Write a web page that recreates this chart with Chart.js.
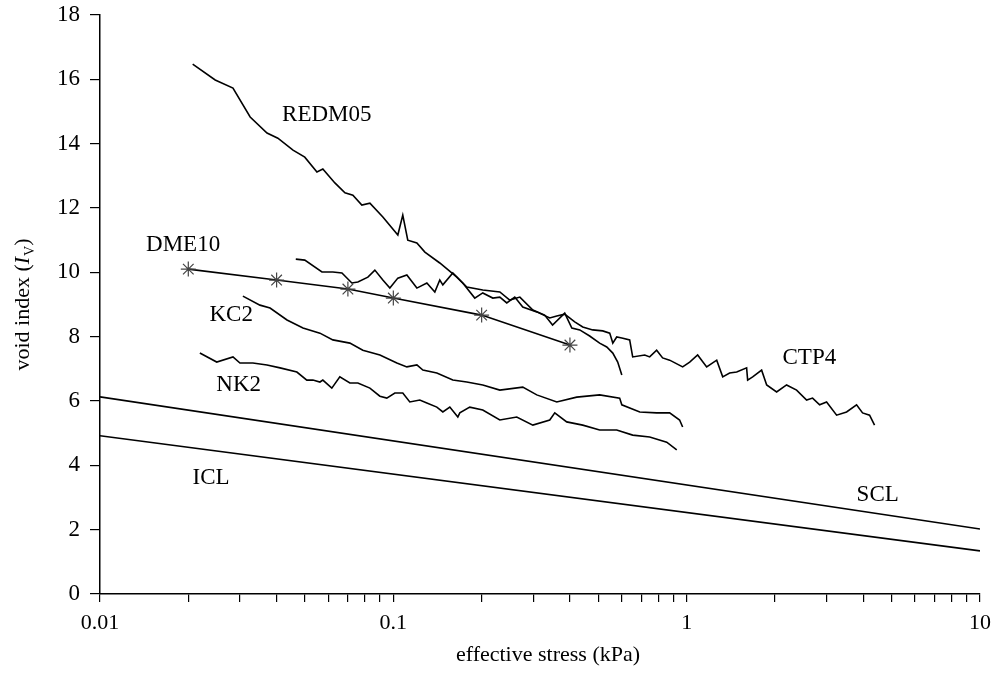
<!DOCTYPE html>
<html>
<head>
<meta charset="utf-8">
<script src="https://cdn.jsdelivr.net/npm/chart.js@4"></script>
<style>
  body { margin: 0; background: #fff; }
  #wrap { width: 995px; height: 676px; }
</style>
</head>
<body>
<div id="wrap"><canvas id="myChart" width="995" height="676"></canvas></div>
<script>
// tick values
const xMajorTicks = [0.01, 0.1, 1, 10];
const yTicks = [0, 2, 4, 6, 8, 10, 12, 14, 16, 18];

// series, [effective stress (kPa), void index]
const REDM05 = [[0.0207,16.47],[0.0247,15.98],[0.0284,15.73],[0.0325,14.83],[0.0371,14.33],[0.0404,14.17],
  [0.0455,13.80],[0.0499,13.58],[0.0549,13.12],[0.0575,13.21],[0.0632,12.78],[0.0684,12.47],[0.0728,12.40],
  [0.0781,12.09],[0.0832,12.15],[0.0921,11.72],[0.1036,11.16],[0.1077,11.78],[0.112,11.00],[0.1203,10.91],
  [0.1281,10.63],[0.144,10.29],[0.1646,9.85],[0.178,9.54],[0.2018,9.45],[0.2307,9.39],[0.2494,9.14],
  [0.270,9.23],[0.299,8.83],[0.328,8.67],[0.349,8.36],[0.384,8.73],[0.406,8.27],[0.432,8.21],[0.467,8.02],
  [0.505,7.80],[0.534,7.68],[0.560,7.49],[0.582,7.21],[0.601,6.81]];

const CTP4 = [[0.0465,10.41],[0.0499,10.38],[0.0571,10.01],[0.0622,10.01],[0.0668,9.98],[0.0722,9.67],
  [0.0757,9.70],[0.0819,9.85],[0.0865,10.07],[0.0921,9.76],[0.0973,9.51],[0.1036,9.82],[0.1112,9.92],
  [0.1203,9.51],[0.1301,9.67],[0.1385,9.39],[0.144,9.76],[0.1475,9.61],[0.1595,9.98],[0.1725,9.67],
  [0.1895,9.20],[0.2018,9.36],[0.2183,9.20],[0.2307,9.23],[0.2436,9.05],[0.2594,9.23],[0.2762,8.92],
  [0.3083,8.77],[0.3414,8.58],[0.3607,8.64],[0.384,8.70],[0.4153,8.46],[0.4423,8.30],[0.4783,8.21],
  [0.5174,8.18],[0.5466,8.11],[0.560,7.80],[0.5774,7.99],[0.601,7.96],[0.6393,7.90],[0.6546,7.37],
  [0.7194,7.43],[0.748,7.37],[0.790,7.58],[0.828,7.34],[0.875,7.27],[0.969,7.06],[1.024,7.21],[1.090,7.43],
  [1.170,7.06],[1.266,7.27],[1.327,6.75],[1.401,6.87],[1.481,6.90],[1.601,7.03],[1.614,6.65],[1.679,6.75],
  [1.801,6.96],[1.874,6.50],[2.026,6.28],[2.191,6.50],[2.370,6.34],[2.564,6.03],[2.687,6.09],[2.840,5.88],
  [2.999,5.97],[3.245,5.56],[3.509,5.66],[3.795,5.88],[3.978,5.63],[4.203,5.56],[4.37,5.25]];

const KC2 = [[0.0307,9.26],[0.0351,8.98],[0.0380,8.89],[0.0434,8.52],[0.0492,8.27],[0.0562,8.11],[0.0622,7.90],
  [0.0711,7.80],[0.0787,7.58],[0.0900,7.43],[0.1028,7.18],[0.1112,7.06],[0.1203,7.12],[0.1261,6.96],
  [0.1407,6.87],[0.1595,6.65],[0.178,6.59],[0.2018,6.50],[0.2307,6.34],[0.2762,6.43],[0.3083,6.19],
  [0.3607,5.97],[0.4219,6.12],[0.505,6.19],[0.591,6.09],[0.601,5.88],[0.692,5.66],[0.790,5.63],[0.875,5.63],
  [0.946,5.41],[0.969,5.19]];

const NK2 = [[0.0219,7.49],[0.0250,7.21],[0.0284,7.37],[0.0300,7.18],[0.0332,7.18],[0.0371,7.12],[0.0411,7.03],
  [0.0469,6.90],[0.0507,6.65],[0.0532,6.65],[0.0562,6.59],[0.0575,6.65],[0.0617,6.40],[0.0657,6.75],
  [0.0711,6.56],[0.0757,6.56],[0.0832,6.40],[0.0900,6.15],[0.0950,6.09],[0.1012,6.25],[0.1077,6.25],
  [0.1138,5.97],[0.1231,6.03],[0.1301,5.94],[0.1407,5.81],[0.1475,5.66],[0.1558,5.81],[0.1659,5.50],
  [0.1685,5.63],[0.1822,5.81],[0.2018,5.72],[0.2307,5.41],[0.2635,5.50],[0.299,5.25],[0.3414,5.41],
  [0.3551,5.63],[0.390,5.35],[0.4423,5.25],[0.505,5.10],[0.5774,5.10],[0.6546,4.94],[0.748,4.88],
  [0.855,4.72],[0.925,4.48]];

const DME10 = [[0.02,10.1],[0.04,9.76],[0.07,9.48],[0.1,9.2],[0.2,8.67],[0.4,7.74]];
const SCL = [[0.01,6.13],[10,2.02]];
const ICL = [[0.01,4.92],[10,1.34]];

const seriesNames = ['REDM05', 'CTP4', 'KC2', 'NK2', 'DME10', 'SCL', 'ICL'];

window.onload = function() {
    const FONT = "'Liberation Serif', 'Times New Roman', serif";

    // minor ticks 2..9 in every decade
    const xTickValues = [];
    xMajorTicks.forEach(function(m, i) {
        xTickValues.push(m);
        if (i < xMajorTicks.length - 1) {
            for (let k = 2; k <= 9; k++) xTickValues.push(+(m * k).toPrecision(3));
        }
    });

    const toPts = arr => arr.map(p => ({x: p[0], y: p[1]}));
    const lineSet = (label, arr) => ({
        label: label, data: toPts(arr), showLine: true, borderColor: '#000',
        borderWidth: 1.6, pointRadius: 0, tension: 0, fill: false
    });

    // text labels placed in data coordinates, plus the axis titles
    const labelPlugin = {
        id: 'curveLabels',
        afterDatasetsDraw(chart) {
            const ctx = chart.ctx, xs = chart.scales.x, ys = chart.scales.y;
            const spots = {REDM05: [0.0593, 14.89], DME10: [0.0192, 10.85], KC2: [0.028, 8.67],
                NK2: [0.0297, 6.50], ICL: [0.0239, 3.61], CTP4: [2.62, 7.34], SCL: [4.48, 3.08]};
            ctx.save();
            ctx.fillStyle = '#000';
            ctx.font = '23px ' + FONT;
            ctx.textAlign = 'center';
            ctx.textBaseline = 'middle';
            seriesNames.forEach(function(n) {
                const s = spots[n];
                ctx.fillText(n, xs.getPixelForValue(s[0]), ys.getPixelForValue(s[1]));
            });
            const ca = chart.chartArea;
            ctx.font = '22px ' + FONT;
            ctx.fillText('effective stress (kPa)', (ca.left + ca.right) / 2 + 8, 655);

            // y axis title with italic I and subscript v
            ctx.translate(22, (ca.top + ca.bottom) / 2);
            ctx.rotate(-Math.PI / 2);
            ctx.textAlign = 'left';
            ctx.textBaseline = 'alphabetic';
            const parts = [['void index (', '22px ' + FONT, 0], ['I', 'italic 22px ' + FONT, 0],
                ['V', '14px ' + FONT, 5], [')', '22px ' + FONT, 0]];
            let total = 0;
            parts.forEach(function(p) { ctx.font = p[1]; total += ctx.measureText(p[0]).width + (p[0] === 'V' ? 1 : 0); });
            let x = -total / 2;
            parts.forEach(function(p) {
                ctx.font = p[1];
                ctx.fillText(p[0], x, 7 + p[2]);
                x += ctx.measureText(p[0]).width + (p[0] === 'I' ? 1 : 0);
            });
            ctx.restore();
        }
    };

    let canva = document.getElementById('myChart').getContext('2d');

    let myChart = new Chart(canva, {
        type: 'scatter',
        data: {
            datasets: [
                lineSet('REDM05', REDM05),
                lineSet('CTP4', CTP4),
                lineSet('KC2', KC2),
                lineSet('NK2', NK2),
                {
                    label: 'DME10', data: toPts(DME10), showLine: true, borderColor: '#000', borderWidth: 1.6,
                    pointStyle: 'star', pointRadius: 7.5, pointBorderColor: '#444', pointBorderWidth: 1.2,
                    pointBackgroundColor: '#444', tension: 0
                },
                lineSet('SCL', SCL),
                lineSet('ICL', ICL)
            ]
        },
        options: {
            responsive: false,
            animation: false,
            devicePixelRatio: 1,
            layout: { padding: { top: 15, right: 15, left: 0, bottom: 0 } },
            plugins: { legend: { display: false }, tooltip: { enabled: false } },
            scales: {
                x: {
                    type: 'logarithmic',
                    min: 0.01, max: 10,
                    afterBuildTicks: function(scale) {
                        scale.ticks = xTickValues.map(v => ({ value: v }));
                    },
                    afterFit: function(scale) {
                        scale.height = 82;
                        scale.paddingLeft = 0;
                        scale.paddingRight = 0;
                    },
                    ticks: {
                        autoSkip: false, maxRotation: 0, padding: 8, color: '#000',
                        font: { family: FONT, size: 22 },
                        callback: function(value) {
                            return xMajorTicks.indexOf(value) >= 0 ? String(value) : '';
                        }
                    },
                    grid: { display: true, drawOnChartArea: false, drawTicks: true, tickLength: 8, color: '#000', lineWidth: 1.2 },
                    border: { display: true, color: '#000', width: 1.5 }
                },
                y: {
                    min: 0, max: 18,
                    afterBuildTicks: function(scale) {
                        scale.ticks = yTicks.map(v => ({ value: v }));
                    },
                    afterFit: function(scale) {
                        scale.width = 100;
                        scale.paddingTop = 0;
                        scale.paddingBottom = 0;
                    },
                    ticks: { padding: 10, color: '#000', font: { family: FONT, size: 23 } },
                    grid: { display: true, drawOnChartArea: false, drawTicks: true, tickLength: 10, color: '#000', lineWidth: 1.2 },
                    border: { display: true, color: '#000', width: 1.5 }
                }
            }
        },
        plugins: [labelPlugin]
    });
};
</script>
</body>
</html>
